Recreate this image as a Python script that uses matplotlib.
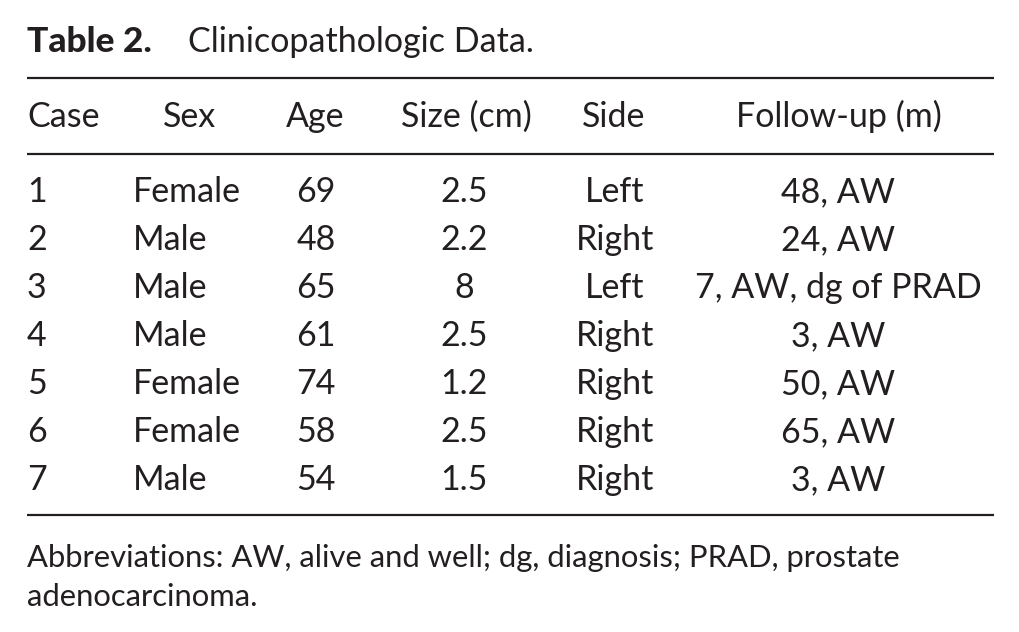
import matplotlib.pyplot as plt

plt.rcParams['font.family'] = ['Lato', 'DejaVu Sans']

headers = ["Case", "Sex", "Age", "Size (cm)", "Side", "Follow-up (m)"]
case = ["1", "2", "3", "4", "5", "6", "7"]
sex = ["Female", "Male", "Male", "Male", "Female", "Female", "Male"]
age = ["69", "48", "65", "61", "74", "58", "54"]
size_cm = ["2.5", "2.2", "8", "2.5", "1.2", "2.5", "1.5"]
side = ["Left", "Right", "Left", "Right", "Right", "Right", "Right"]
follow_up = ["48, AW", "24, AW", "7, AW, dg of PRAD", "3, AW",
             "50, AW", "65, AW", "3, AW"]

title_bold = "Table 2."
title_rest = "Clinicopathologic Data."
footnote = ["Abbreviations: AW, alive and well; dg, diagnosis; PRAD, prostate",
            "adenocarcinoma."]

ink = '#231f20'

fig = plt.figure(figsize=[10.2, 6.32], dpi=100)
ax = fig.add_axes([0, 0, 1, 1])
ax.set_xlim(0, 1020)
ax.set_ylim(632, 0)
ax.axis('off')

# layout (pixels)
left, right = 27, 994
fs = 24.5
header_x = [27, 189, 315, 466, 614, 839]
header_ha = ['left', 'center', 'center', 'center', 'center', 'center']
data_x = [27, 133, 316, 464, 615, 838]
data_ha = ['left', 'left', 'center', 'center', 'center', 'center']
row0, row_step = 202, 48

ax.text(left, 52, title_bold, fontsize=25.5, fontweight=900, color=ink, va='baseline')
ax.text(188, 52, title_rest, fontsize=fs, color=ink, va='baseline')

for y in [78, 154, 515]:
    ax.plot([left, right], [y, y], color=ink, lw=1.6, solid_capstyle='butt')

for h, x, ha in zip(headers, header_x, header_ha):
    ax.text(x, 127, h, fontsize=fs, color=ink, ha=ha, va='baseline')

columns = [case, sex, age, size_cm, side, follow_up]
for col, x, ha in zip(columns, data_x, data_ha):
    for i, val in enumerate(col):
        ax.text(x, row0 + i * row_step, val, fontsize=fs, color=ink, ha=ha, va='baseline')

for i, line in enumerate(footnote):
    ax.text(left, 567 + i * 39, line, fontsize=22.3, color=ink, va='baseline')

plt.savefig('out.png', dpi=100)
